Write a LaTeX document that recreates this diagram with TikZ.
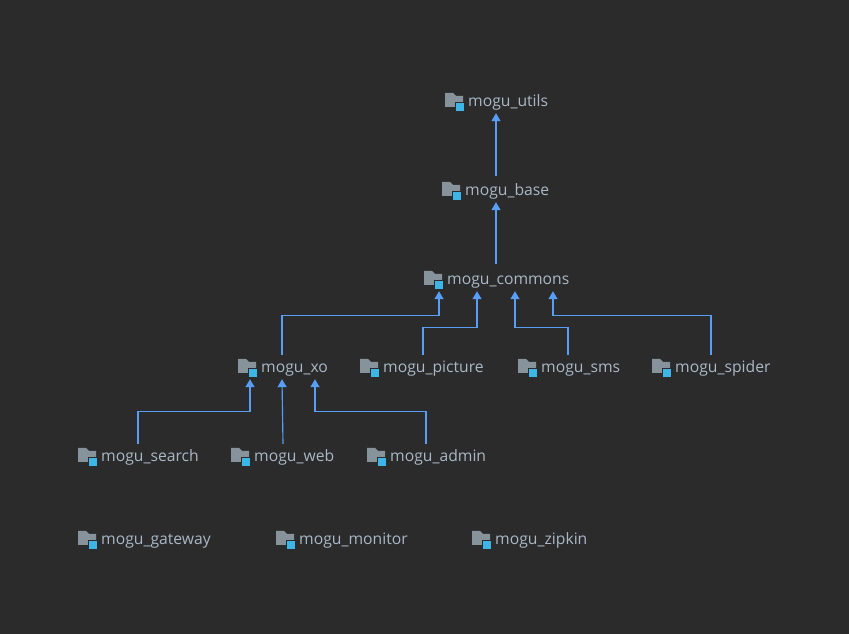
\documentclass[tikz,border=0pt]{standalone}
\usepackage{fontspec}
\setmainfont{Open Sans}
\usetikzlibrary{arrows.meta}
\definecolor{bgdark}{HTML}{2B2B2B}
\definecolor{modtext}{HTML}{A9B7C6}
\definecolor{deplink}{HTML}{589DF6}
\definecolor{foldergray}{HTML}{87939A}
\definecolor{modblue}{HTML}{3DB5E6}
\tikzset{
  modlabel/.style={anchor=base west,inner xsep=0pt,inner ysep=4pt,text height=14pt,text depth=2pt,text=modtext,font=\fontsize{15.7}{18}\selectfont},
  deparrow/.style={draw=deplink,line width=1.15pt,-{Triangle[length=8pt,width=9pt]}},
}
\begin{document}
\begin{tikzpicture}[x=1pt,y=1pt]
  \fill[bgdark] (0,0) rectangle (849,634);
  \useasboundingbox (0,0) rectangle (849,634);
  \foreach \modname/\modx/\mody in {utils/468/533,base/465/444,commons/447/355,
      xo/261/267,picture/383/267,sms/541/267,spider/675/267,
      search/101/178,web/254/178,admin/390/178,
      gateway/101/95,monitor/299/95,zipkin/495/95} {
    \node[modlabel] (\modname) at (\modx,\mody-6) {mogu\_\modname};
    \fill[foldergray] (\modx-23,\mody-6) -- (\modx-23,\mody+8) -- (\modx-15,\mody+8) --
      (\modx-12,\mody+5) -- (\modx-5,\mody+5) -- (\modx-5,\mody-6) -- cycle;
    \filldraw[fill=modblue,draw=bgdark,line width=1pt] (\modx-12.5,\mody-11) rectangle (\modx-3.5,\mody-2);
  }
  % upper chain
  \draw[deparrow] ([shift={(31pt,2pt)}]base.north west) -- ([xshift=28pt]utils.south west);
  \draw[deparrow] ([shift={(49pt,3pt)}]commons.north west) -- ([xshift=31pt]base.south west);
  % into commons
  \draw[deparrow] ([xshift=21pt]xo.north west) -- ++(0,39) -| ([xshift=-8pt]commons.south west);
  \draw[deparrow] ([xshift=40pt]picture.north west) -- ++(0,27) -| ([xshift=30pt]commons.south west);
  \draw[deparrow] ([xshift=27pt]sms.north west) -- ++(0,27) -| ([xshift=68pt]commons.south west);
  \draw[deparrow] ([xshift=36pt]spider.north west) -- ++(0,39) -| ([xshift=106pt]commons.south west);
  % into xo
  \draw[deparrow] ([xshift=37pt]search.north west) -- ++(0,32) -| ([xshift=-11pt]xo.south west);
  \draw[deparrow] ([xshift=29pt]web.north west) -- ([xshift=21pt]xo.south west);
  \draw[deparrow] ([xshift=36pt]admin.north west) -- ++(0,32) -| ([xshift=54pt]xo.south west);
\end{tikzpicture}
\end{document}
